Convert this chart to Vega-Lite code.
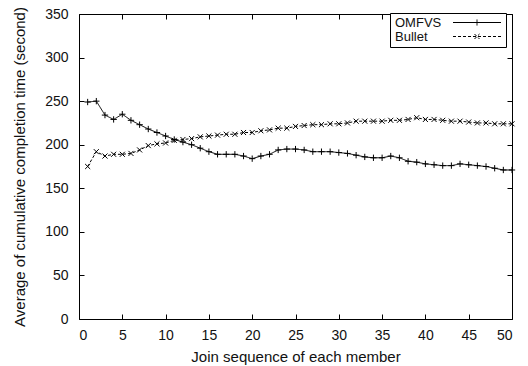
{
  "$schema": "https://vega.github.io/schema/vega-lite/v6.json",
  "width": 433,
  "height": 305,
  "autosize": {"type": "none"},
  "padding": {"left": 79, "top": 14, "right": 16, "bottom": 47},
  "background": "white",
  "config": {
    "font": "Liberation Sans",
    "view": {"stroke": "black", "strokeWidth": 1},
    "axis": {
      "domain": false,
      "grid": false,
      "tickColor": "black",
      "tickSize": -5,
      "tickWidth": 1,
      "labelColor": "#111",
      "labelFont": "Liberation Sans",
      "labelFontSize": 14,
      "titleColor": "#111",
      "titleFont": "Liberation Sans",
      "titleFontSize": 15,
      "titleFontWeight": "normal"
    }
  },
  "data": {
    "values": [
      {"member": 1, "series": "OMFVS", "time": 249},
      {"member": 2, "series": "OMFVS", "time": 250},
      {"member": 3, "series": "OMFVS", "time": 234},
      {"member": 4, "series": "OMFVS", "time": 229},
      {"member": 5, "series": "OMFVS", "time": 235},
      {"member": 6, "series": "OMFVS", "time": 228},
      {"member": 7, "series": "OMFVS", "time": 223},
      {"member": 8, "series": "OMFVS", "time": 218},
      {"member": 9, "series": "OMFVS", "time": 214},
      {"member": 10, "series": "OMFVS", "time": 210},
      {"member": 11, "series": "OMFVS", "time": 206},
      {"member": 12, "series": "OMFVS", "time": 203},
      {"member": 13, "series": "OMFVS", "time": 200},
      {"member": 14, "series": "OMFVS", "time": 196},
      {"member": 15, "series": "OMFVS", "time": 192},
      {"member": 16, "series": "OMFVS", "time": 189},
      {"member": 17, "series": "OMFVS", "time": 189},
      {"member": 18, "series": "OMFVS", "time": 189},
      {"member": 19, "series": "OMFVS", "time": 187},
      {"member": 20, "series": "OMFVS", "time": 184},
      {"member": 21, "series": "OMFVS", "time": 187},
      {"member": 22, "series": "OMFVS", "time": 189},
      {"member": 23, "series": "OMFVS", "time": 194},
      {"member": 24, "series": "OMFVS", "time": 195},
      {"member": 25, "series": "OMFVS", "time": 195},
      {"member": 26, "series": "OMFVS", "time": 194},
      {"member": 27, "series": "OMFVS", "time": 192},
      {"member": 28, "series": "OMFVS", "time": 192},
      {"member": 29, "series": "OMFVS", "time": 192},
      {"member": 30, "series": "OMFVS", "time": 191},
      {"member": 31, "series": "OMFVS", "time": 190},
      {"member": 32, "series": "OMFVS", "time": 188},
      {"member": 33, "series": "OMFVS", "time": 186},
      {"member": 34, "series": "OMFVS", "time": 185},
      {"member": 35, "series": "OMFVS", "time": 185},
      {"member": 36, "series": "OMFVS", "time": 187},
      {"member": 37, "series": "OMFVS", "time": 185},
      {"member": 38, "series": "OMFVS", "time": 181},
      {"member": 39, "series": "OMFVS", "time": 180},
      {"member": 40, "series": "OMFVS", "time": 178},
      {"member": 41, "series": "OMFVS", "time": 177},
      {"member": 42, "series": "OMFVS", "time": 176},
      {"member": 43, "series": "OMFVS", "time": 176},
      {"member": 44, "series": "OMFVS", "time": 178},
      {"member": 45, "series": "OMFVS", "time": 177},
      {"member": 46, "series": "OMFVS", "time": 176},
      {"member": 47, "series": "OMFVS", "time": 175},
      {"member": 48, "series": "OMFVS", "time": 173},
      {"member": 49, "series": "OMFVS", "time": 171},
      {"member": 50, "series": "OMFVS", "time": 171},
      {"member": 1, "series": "Bullet", "time": 175},
      {"member": 2, "series": "Bullet", "time": 192},
      {"member": 3, "series": "Bullet", "time": 187},
      {"member": 4, "series": "Bullet", "time": 189},
      {"member": 5, "series": "Bullet", "time": 189},
      {"member": 6, "series": "Bullet", "time": 190},
      {"member": 7, "series": "Bullet", "time": 194},
      {"member": 8, "series": "Bullet", "time": 199},
      {"member": 9, "series": "Bullet", "time": 201},
      {"member": 10, "series": "Bullet", "time": 202},
      {"member": 11, "series": "Bullet", "time": 205},
      {"member": 12, "series": "Bullet", "time": 206},
      {"member": 13, "series": "Bullet", "time": 207},
      {"member": 14, "series": "Bullet", "time": 209},
      {"member": 15, "series": "Bullet", "time": 210},
      {"member": 16, "series": "Bullet", "time": 211},
      {"member": 17, "series": "Bullet", "time": 212},
      {"member": 18, "series": "Bullet", "time": 212},
      {"member": 19, "series": "Bullet", "time": 214},
      {"member": 20, "series": "Bullet", "time": 214},
      {"member": 21, "series": "Bullet", "time": 216},
      {"member": 22, "series": "Bullet", "time": 217},
      {"member": 23, "series": "Bullet", "time": 219},
      {"member": 24, "series": "Bullet", "time": 219},
      {"member": 25, "series": "Bullet", "time": 221},
      {"member": 26, "series": "Bullet", "time": 222},
      {"member": 27, "series": "Bullet", "time": 223},
      {"member": 28, "series": "Bullet", "time": 223},
      {"member": 29, "series": "Bullet", "time": 224},
      {"member": 30, "series": "Bullet", "time": 224},
      {"member": 31, "series": "Bullet", "time": 225},
      {"member": 32, "series": "Bullet", "time": 227},
      {"member": 33, "series": "Bullet", "time": 227},
      {"member": 34, "series": "Bullet", "time": 227},
      {"member": 35, "series": "Bullet", "time": 227},
      {"member": 36, "series": "Bullet", "time": 228},
      {"member": 37, "series": "Bullet", "time": 228},
      {"member": 38, "series": "Bullet", "time": 229},
      {"member": 39, "series": "Bullet", "time": 231},
      {"member": 40, "series": "Bullet", "time": 229},
      {"member": 41, "series": "Bullet", "time": 229},
      {"member": 42, "series": "Bullet", "time": 228},
      {"member": 43, "series": "Bullet", "time": 227},
      {"member": 44, "series": "Bullet", "time": 227},
      {"member": 45, "series": "Bullet", "time": 226},
      {"member": 46, "series": "Bullet", "time": 225},
      {"member": 47, "series": "Bullet", "time": 225},
      {"member": 48, "series": "Bullet", "time": 224},
      {"member": 49, "series": "Bullet", "time": 224},
      {"member": 50, "series": "Bullet", "time": 224}
    ]
  },
  "resolve": {"axis": {"x": "independent", "y": "independent"}},
  "layer": [
    {
      "mark": {"type": "line", "color": "black", "strokeWidth": 1},
      "encoding": {
        "x": {
          "field": "member", "type": "quantitative",
          "scale": {"domain": [0, 50], "nice": false, "zero": false},
          "axis": {"values": [0, 5, 10, 15, 20, 25, 30, 35, 40, 45, 50], "title": "Join sequence of each member", "labelPadding": 14, "titlePadding": 7}
        },
        "y": {
          "field": "time", "type": "quantitative",
          "scale": {"domain": [0, 350], "nice": false},
          "axis": {"values": [0, 50, 100, 150, 200, 250, 300, 350], "title": "Average of cumulative completion time (second)", "labelPadding": 16, "titlePadding": 17}
        },
        "strokeDash": {
          "field": "series", "type": "nominal",
          "scale": {"domain": ["OMFVS", "Bullet"], "range": [[1, 0], [3, 2]]},
          "legend": {
            "title": null,
            "orient": "none",
            "legendX": 311,
            "legendY": -1,
            "strokeColor": "black",
            "fillColor": "white",
            "padding": 3,
            "labelFont": "Liberation Sans",
            "labelFontSize": 13,
            "labelColor": "#111",
            "symbolType": "M-4.8,0H4.8M0,-0.6V0.6",
            "symbolSize": 100,
            "symbolStrokeColor": "black",
            "symbolStrokeWidth": 1,
            "symbolOffset": 77.5,
            "labelOffset": -88.5,
            "rowPadding": 0,
            "encode": {
              "symbols": {
                "update": {
                  "shape": {"signal": "datum.label === 'Bullet' ? 'M-4.8,0H4.8M-0.5,-0.5L0.5,0.5M-0.5,0.5L0.5,-0.5' : 'M-4.8,0H4.8M0,-0.6V0.6'"},
                  "stroke": {"value": "black"}
                }
              }
            }
          }
        }
      }
    },
    {
      "transform": [{"filter": "datum.series === 'OMFVS'"}],
      "mark": {"type": "point", "filled": false, "color": "black", "strokeWidth": 1, "opacity": 1, "size": 40, "shape": "M-1,0H1M0,-1V1"},
      "encoding": {
        "x": {"field": "member", "type": "quantitative", "scale": {"domain": [0, 50], "nice": false, "zero": false}, "axis": null},
        "y": {"field": "time", "type": "quantitative", "scale": {"domain": [0, 350], "nice": false}, "axis": null}
      }
    },
    {
      "transform": [{"filter": "datum.series === 'Bullet'"}],
      "mark": {"type": "point", "filled": false, "color": "black", "strokeWidth": 1, "opacity": 1, "size": 40, "shape": "M-0.8,-0.8L0.8,0.8M-0.8,0.8L0.8,-0.8"},
      "encoding": {
        "x": {"field": "member", "type": "quantitative", "scale": {"domain": [0, 50], "nice": false, "zero": false}, "axis": null},
        "y": {"field": "time", "type": "quantitative", "scale": {"domain": [0, 350], "nice": false}, "axis": null}
      }
    },
    {
      "mark": {"type": "point", "opacity": 0},
      "encoding": {
        "x": {"field": "member", "type": "quantitative", "scale": {"domain": [0, 50], "nice": false, "zero": false}, "axis": {"orient": "top", "values": [0, 5, 10, 15, 20, 25, 30, 35, 40, 45, 50], "labels": false, "title": null}},
        "y": {"field": "time", "type": "quantitative", "scale": {"domain": [0, 350], "nice": false}, "axis": {"orient": "right", "values": [0, 50, 100, 150, 200, 250, 300, 350], "labels": false, "title": null}}
      }
    }
  ]
}
